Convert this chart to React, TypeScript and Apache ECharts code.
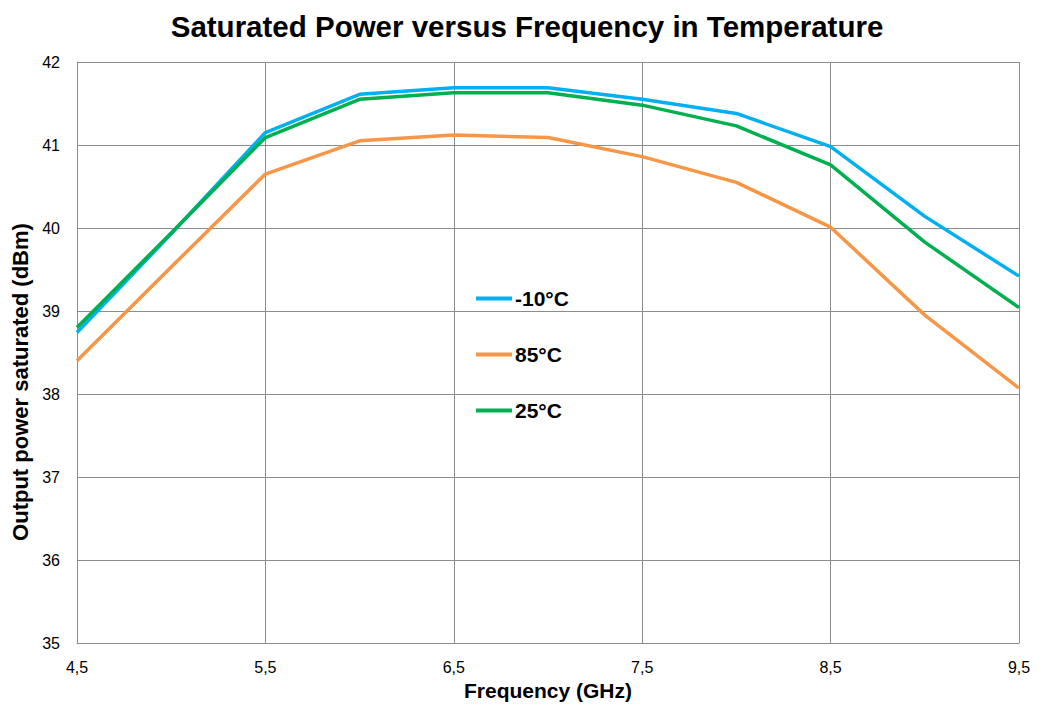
import React, { useEffect, useRef } from "react";
import * as echarts from "echarts";

const frequencies = [4.5, 5, 5.5, 6, 6.5, 7, 7.5, 8, 8.5, 9, 9.5];
const minus10 = [38.74, 39.93, 41.15, 41.61, 41.69, 41.69, 41.55, 41.38, 40.98, 40.14, 39.42];
const plus85 = [38.4, 39.53, 40.65, 41.05, 41.12, 41.09, 40.86, 40.55, 40.01, 38.95, 38.07];
const plus25 = [38.8, 39.94, 41.09, 41.55, 41.63, 41.63, 41.48, 41.23, 40.76, 39.83, 39.04];
const seriesNames = ["-10°C", "85°C", "25°C"];
const colors = ["#00B0F0", "#F79646", "#00B050"];

export default function App() {
  const ref = useRef<HTMLDivElement>(null);
  useEffect(() => {
    if (!ref.current) return;
    const chart = echarts.init(ref.current, undefined, { renderer: "svg" });
    const font = "Arial, 'Liberation Sans', sans-serif";
    const data = [minus10, plus85, plus25];
    chart.setOption({
      animation: false,
      backgroundColor: "#ffffff",
      title: {
        text: "Saturated Power versus Frequency in Temperature",
        left: 522,
        top: 6,
        textAlign: "center",
        textStyle: { fontFamily: font, fontSize: 29.5, fontWeight: "bold", color: "#000" },
      },
      legend: {
        orient: "vertical",
        left: 471,
        top: 283,
        itemGap: 35,
        itemWidth: 36,
        itemHeight: 4,
        icon: "rect",
        data: seriesNames,
        textStyle: { fontFamily: font, fontSize: 21, fontWeight: "bold", color: "#000", padding: [0, 0, 0, -2] },
      },
      graphic: [
        {
          type: "text",
          x: 20,
          y: 382,
          rotation: Math.PI / 2,
          style: {
            text: "Output power saturated (dBm)",
            fontFamily: font,
            fontSize: 22,
            fontWeight: "bold",
            fill: "#000",
            align: "center",
            verticalAlign: "middle",
          },
        },
      ],
      grid: { left: 77, right: 20, top: 62, bottom: 66, containLabel: false },
      xAxis: {
        type: "category",
        boundaryGap: false,
        data: frequencies.map((f) => String(f).replace(".", ",")),
        name: "Frequency (GHz)",
        nameLocation: "middle",
        nameGap: 35,
        nameTextStyle: { fontFamily: font, fontSize: 21, fontWeight: "bold", color: "#000" },
        axisLine: { show: true, lineStyle: { color: "#8c8c8c", width: 1 } },
        axisTick: { show: false },
        axisLabel: { interval: 1, margin: 16, fontFamily: font, fontSize: 16, color: "#000" },
        splitLine: { show: true, interval: 1, lineStyle: { color: "#8c8c8c", width: 1 } },
      },
      yAxis: {
        type: "value",
        min: 35,
        max: 42,
        interval: 1,
        axisLine: { show: true, lineStyle: { color: "#8c8c8c", width: 1 } },
        axisTick: { show: false },
        axisLabel: { margin: 17, fontFamily: font, fontSize: 16, color: "#000" },
        splitLine: { show: true, lineStyle: { color: "#8c8c8c", width: 1 } },
      },
      series: seriesNames.map((name, i) => ({
        name,
        type: "line",
        data: data[i],
        showSymbol: false,
        symbol: "none",
        lineStyle: { color: colors[i], width: 3.5 },
        itemStyle: { color: colors[i] },
        z: i === 0 ? 2 : i === 2 ? 3 : 1,
      })),
    });
    return () => chart.dispose();
  }, []);
  return (
    <div
      ref={ref}
      style={{ position: "fixed", left: 0, top: 0, width: 1039, height: 709 }}
    />
  );
}
